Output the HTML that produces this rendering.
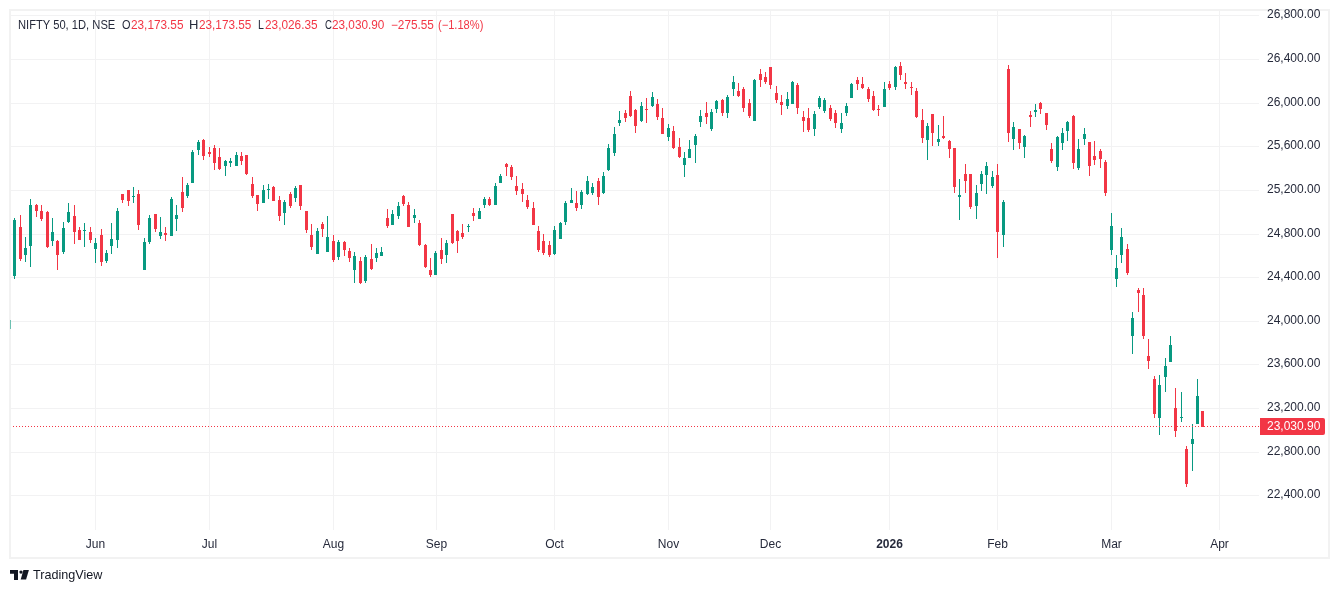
<!DOCTYPE html><html><head><meta charset="utf-8"><style>
html,body{margin:0;padding:0;background:#fff;width:1339px;height:593px;overflow:hidden;position:relative}
.t{position:absolute;transform:translateZ(0);transform-origin:0 0;font-family:"Liberation Sans",sans-serif;white-space:nowrap;line-height:1}
.ax{font-size:12px;color:#262a3b}
.lg{font-size:12px;color:#131722}
.rd{color:#f23645}
</style></head><body>
<svg width="1339" height="593" style="position:absolute;left:0;top:0" shape-rendering="crispEdges">
<path d="M9,9h1321v550h-1321z M11,11v546h1317v-546z" fill="#f2f2f2" fill-rule="evenodd"/>
<path d="M11,15h1248v1h-1248zM11,59h1248v1h-1248zM11,103h1248v1h-1248zM11,146h1248v1h-1248zM11,190h1248v1h-1248zM11,234h1248v1h-1248zM11,277h1248v1h-1248zM11,321h1248v1h-1248zM11,364h1248v1h-1248zM11,408h1248v1h-1248zM11,452h1248v1h-1248zM11,495h1248v1h-1248zM95,11h1v519h-1zM209,11h1v519h-1zM333,11h1v519h-1zM436,11h1v519h-1zM554,11h1v519h-1zM668,11h1v519h-1zM770,11h1v519h-1zM889,11h1v519h-1zM997,11h1v519h-1zM1111,11h1v519h-1zM1219,11h1v519h-1z" fill="#f2f2f3"/>
<path d="M10,320h1v9h-1z" fill="#6cc0b1"/>
<path d="M14,218h1v61h-1zM13,220h3v56h-3zM25,237h1v25h-1zM24,248h3v7h-3zM30,199h1v68h-1zM29,205h3v41h-3zM52,218h1v28h-1zM51,232h3v9h-3zM63,222h1v32h-1zM62,228h3v24h-3zM68,203h1v20h-1zM67,212h3v10h-3zM84,223h1v24h-1zM83,230h3v1h-3zM95,238h1v25h-1zM94,243h3v6h-3zM106,250h1v13h-1zM105,253h3v8h-3zM111,223h1v31h-1zM110,239h3v7h-3zM117,208h1v40h-1zM116,211h3v29h-3zM133,187h1v16h-1zM132,196h3v1h-3zM144,238h1v32h-1zM143,242h3v28h-3zM149,215h1v29h-1zM148,218h3v24h-3zM160,217h1v22h-1zM159,232h3v4h-3zM171,197h1v39h-1zM170,199h3v37h-3zM176,205h1v26h-1zM175,215h3v4h-3zM187,183h1v15h-1zM186,185h3v11h-3zM192,150h1v33h-1zM191,152h3v31h-3zM198,140h1v15h-1zM197,142h3v8h-3zM225,160h1v16h-1zM224,161h3v5h-3zM230,158h1v9h-1zM229,161h3v2h-3zM236,152h1v14h-1zM235,155h3v11h-3zM263,185h1v18h-1zM262,190h3v13h-3zM268,184h1v15h-1zM267,189h3v1h-3zM284,200h1v25h-1zM283,202h3v11h-3zM295,186h1v16h-1zM294,188h3v10h-3zM317,228h1v26h-1zM316,231h3v23h-3zM327,216h1v36h-1zM326,237h3v15h-3zM338,240h1v20h-1zM337,242h3v15h-3zM354,252h1v31h-1zM353,256h3v14h-3zM365,255h1v28h-1zM364,257h3v24h-3zM376,248h1v14h-1zM375,253h3v5h-3zM381,247h1v9h-1zM380,252h3v4h-3zM392,210h1v15h-1zM391,214h3v11h-3zM398,202h1v17h-1zM397,206h3v10h-3zM414,209h1v14h-1zM413,215h3v3h-3zM435,251h1v24h-1zM434,253h3v22h-3zM446,240h1v23h-1zM445,243h3v12h-3zM468,224h1v8h-1zM467,226h3v1h-3zM479,208h1v11h-1zM478,211h3v8h-3zM484,197h1v11h-1zM483,199h3v6h-3zM495,183h1v22h-1zM494,186h3v19h-3zM500,174h1v9h-1zM499,176h3v7h-3zM554,226h1v29h-1zM553,230h3v24h-3zM560,222h1v17h-1zM559,223h3v16h-3zM565,201h1v24h-1zM564,203h3v19h-3zM571,188h1v15h-1zM570,200h3v3h-3zM581,190h1v19h-1zM580,192h3v13h-3zM587,176h1v19h-1zM586,181h3v13h-3zM592,183h1v12h-1zM591,187h3v6h-3zM603,172h1v22h-1zM602,176h3v17h-3zM608,144h1v27h-1zM607,148h3v22h-3zM614,127h1v29h-1zM613,134h3v19h-3zM619,111h1v15h-1zM618,120h3v3h-3zM641,102h1v20h-1zM640,106h3v15h-3zM652,92h1v15h-1zM651,97h3v9h-3zM668,124h1v17h-1zM667,128h3v9h-3zM684,152h1v25h-1zM683,158h3v7h-3zM689,140h1v18h-1zM688,149h3v9h-3zM695,134h1v29h-1zM694,136h3v9h-3zM700,110h1v17h-1zM699,116h3v6h-3zM711,109h1v22h-1zM710,112h3v17h-3zM716,100h1v13h-1zM715,101h3v8h-3zM727,95h1v23h-1zM726,97h3v16h-3zM733,76h1v20h-1zM732,82h3v7h-3zM754,79h1v42h-1zM753,80h3v41h-3zM787,92h1v17h-1zM786,99h3v7h-3zM792,81h1v23h-1zM791,82h3v22h-3zM814,111h1v25h-1zM813,114h3v15h-3zM819,96h1v13h-1zM818,98h3v9h-3zM824,98h1v15h-1zM823,100h3v11h-3zM841,113h1v20h-1zM840,123h3v6h-3zM846,103h1v13h-1zM845,106h3v7h-3zM851,83h1v15h-1zM850,84h3v14h-3zM884,82h1v25h-1zM883,89h3v18h-3zM895,66h1v24h-1zM894,67h3v20h-3zM927,123h1v37h-1zM926,126h3v14h-3zM938,125h1v21h-1zM937,139h3v3h-3zM959,179h1v41h-1zM958,195h3v2h-3zM976,185h1v34h-1zM975,193h3v13h-3zM981,171h1v20h-1zM980,174h3v10h-3zM986,162h1v32h-1zM985,166h3v9h-3zM992,171h1v17h-1zM991,177h3v9h-3zM1003,200h1v47h-1zM1002,202h3v33h-3zM1013,122h1v28h-1zM1012,127h3v12h-3zM1024,135h1v23h-1zM1023,136h3v11h-3zM1035,104h1v13h-1zM1034,110h3v2h-3zM1057,136h1v35h-1zM1056,137h3v30h-3zM1062,128h1v22h-1zM1061,133h3v10h-3zM1067,121h1v20h-1zM1066,122h3v9h-3zM1078,139h1v31h-1zM1077,149h3v19h-3zM1084,128h1v17h-1zM1083,134h3v5h-3zM1111,213h1v42h-1zM1110,226h3v24h-3zM1116,255h1v32h-1zM1115,268h3v11h-3zM1121,228h1v35h-1zM1120,237h3v18h-3zM1132,312h1v42h-1zM1131,318h3v18h-3zM1159,375h1v60h-1zM1158,385h3v33h-3zM1165,358h1v34h-1zM1164,366h3v11h-3zM1170,336h1v26h-1zM1169,345h3v17h-3zM1181,392h1v30h-1zM1180,417h3v1h-3zM1192,424h1v47h-1zM1191,439h3v5h-3zM1197,379h1v45h-1zM1196,396h3v28h-3z" fill="#089981"/>
<path d="M20,215h1v46h-1zM19,227h3v32h-3zM36,204h1v13h-1zM35,205h3v6h-3zM41,205h1v16h-1zM40,211h3v8h-3zM47,211h1v37h-1zM46,212h3v35h-3zM57,240h1v30h-1zM56,241h3v14h-3zM74,205h1v39h-1zM73,216h3v16h-3zM79,227h1v13h-1zM78,230h3v10h-3zM90,227h1v16h-1zM89,232h3v8h-3zM101,229h1v37h-1zM100,235h3v27h-3zM122,194h1v9h-1zM121,194h3v6h-3zM128,190h1v16h-1zM127,190h3v11h-3zM138,190h1v40h-1zM137,194h3v31h-3zM155,214h1v18h-1zM154,214h3v15h-3zM165,227h1v14h-1zM164,233h3v2h-3zM182,177h1v35h-1zM181,192h3v16h-3zM203,139h1v21h-1zM202,140h3v16h-3zM209,147h1v10h-1zM208,152h3v2h-3zM214,145h1v25h-1zM213,148h3v15h-3zM219,148h1v22h-1zM218,157h3v12h-3zM241,152h1v13h-1zM240,156h3v5h-3zM246,155h1v20h-1zM245,155h3v19h-3zM252,177h1v21h-1zM251,184h3v12h-3zM257,195h1v16h-1zM256,195h3v9h-3zM273,186h1v15h-1zM272,187h3v14h-3zM279,196h1v25h-1zM278,200h3v16h-3zM290,192h1v16h-1zM289,194h3v12h-3zM300,185h1v25h-1zM299,185h3v21h-3zM306,211h1v22h-1zM305,211h3v19h-3zM311,224h1v26h-1zM310,235h3v12h-3zM322,222h1v15h-1zM321,224h3v5h-3zM333,235h1v27h-1zM332,241h3v19h-3zM344,241h1v15h-1zM343,242h3v8h-3zM349,248h1v14h-1zM348,251h3v7h-3zM360,257h1v27h-1zM359,261h3v22h-3zM371,244h1v26h-1zM370,259h3v10h-3zM387,209h1v19h-1zM386,218h3v8h-3zM403,195h1v11h-1zM402,196h3v8h-3zM408,202h1v25h-1zM407,205h3v22h-3zM419,220h1v26h-1zM418,223h3v22h-3zM425,244h1v24h-1zM424,245h3v22h-3zM430,258h1v19h-1zM429,270h3v5h-3zM441,238h1v26h-1zM440,250h3v9h-3zM452,214h1v30h-1zM451,214h3v29h-3zM457,230h1v23h-1zM456,231h3v10h-3zM462,224h1v15h-1zM461,233h3v4h-3zM473,208h1v13h-1zM472,213h3v3h-3zM489,197h1v9h-1zM488,199h3v6h-3zM506,163h1v13h-1zM505,164h3v3h-3zM511,165h1v15h-1zM510,167h3v10h-3zM516,176h1v19h-1zM515,186h3v5h-3zM522,183h1v19h-1zM521,189h3v5h-3zM527,195h1v14h-1zM526,200h3v7h-3zM533,202h1v23h-1zM532,208h3v17h-3zM538,226h1v26h-1zM537,231h3v19h-3zM543,234h1v21h-1zM542,241h3v12h-3zM549,241h1v16h-1zM548,245h3v10h-3zM576,191h1v20h-1zM575,203h3v5h-3zM598,178h1v27h-1zM597,181h3v16h-3zM625,110h1v12h-1zM624,113h3v5h-3zM630,91h1v26h-1zM629,96h3v20h-3zM635,109h1v24h-1zM634,110h3v16h-3zM646,98h1v25h-1zM645,109h3v1h-3zM657,99h1v21h-1zM656,104h3v13h-3zM662,108h1v26h-1zM661,118h3v16h-3zM673,126h1v23h-1zM672,131h3v17h-3zM679,138h1v20h-1zM678,147h3v10h-3zM706,102h1v22h-1zM705,113h3v4h-3zM722,99h1v17h-1zM721,100h3v13h-3zM738,83h1v14h-1zM737,91h3v5h-3zM743,87h1v25h-1zM742,89h3v19h-3zM749,99h1v19h-1zM748,103h3v13h-3zM760,69h1v18h-1zM759,74h3v6h-3zM765,72h1v12h-1zM764,77h3v5h-3zM770,67h1v22h-1zM769,67h3v18h-3zM776,86h1v17h-1zM775,93h3v7h-3zM781,95h1v20h-1zM780,102h3v3h-3zM797,83h1v31h-1zM796,85h3v23h-3zM803,111h1v21h-1zM802,117h3v4h-3zM808,108h1v24h-1zM807,118h3v12h-3zM830,105h1v16h-1zM829,108h3v11h-3zM835,110h1v18h-1zM834,113h3v10h-3zM857,77h1v13h-1zM856,80h3v4h-3zM862,77h1v12h-1zM861,84h3v4h-3zM868,87h1v15h-1zM867,89h3v10h-3zM873,91h1v20h-1zM872,96h3v14h-3zM878,105h1v11h-1zM877,109h3v1h-3zM889,81h1v9h-1zM888,84h3v4h-3zM900,62h1v18h-1zM899,66h3v9h-3zM905,73h1v16h-1zM904,82h3v2h-3zM911,82h1v13h-1zM910,87h3v1h-3zM916,88h1v30h-1zM915,91h3v26h-3zM922,109h1v34h-1zM921,120h3v18h-3zM932,114h1v32h-1zM931,114h3v19h-3zM943,116h1v23h-1zM942,136h3v2h-3zM949,140h1v18h-1zM948,141h3v8h-3zM954,148h1v45h-1zM953,148h3v39h-3zM965,164h1v29h-1zM964,174h3v7h-3zM970,174h1v35h-1zM969,174h3v33h-3zM997,164h1v94h-1zM996,175h3v57h-3zM1008,65h1v77h-1zM1007,69h3v64h-3zM1019,129h1v20h-1zM1018,129h3v14h-3zM1030,111h1v16h-1zM1029,115h3v2h-3zM1040,102h1v12h-1zM1039,103h3v6h-3zM1046,113h1v17h-1zM1045,113h3v12h-3zM1051,143h1v20h-1zM1050,149h3v12h-3zM1073,115h1v54h-1zM1072,116h3v47h-3zM1089,142h1v34h-1zM1088,142h3v24h-3zM1094,141h1v24h-1zM1093,156h3v4h-3zM1100,149h1v19h-1zM1099,151h3v8h-3zM1105,160h1v36h-1zM1104,162h3v31h-3zM1127,244h1v31h-1zM1126,249h3v24h-3zM1138,288h1v24h-1zM1137,290h3v3h-3zM1143,288h1v51h-1zM1142,295h3v41h-3zM1148,339h1v30h-1zM1147,356h3v5h-3zM1154,376h1v42h-1zM1153,379h3v35h-3zM1175,388h1v49h-1zM1174,408h3v23h-3zM1186,446h1v41h-1zM1185,449h3v35h-3zM1202,411h1v16h-1zM1201,411h3v16h-3z" fill="#f23645"/>
<path d="M13,426h1v1h-1zM16,426h1v1h-1zM19,426h1v1h-1zM22,426h1v1h-1zM25,426h1v1h-1zM28,426h1v1h-1zM31,426h1v1h-1zM34,426h1v1h-1zM37,426h1v1h-1zM40,426h1v1h-1zM43,426h1v1h-1zM46,426h1v1h-1zM49,426h1v1h-1zM52,426h1v1h-1zM55,426h1v1h-1zM58,426h1v1h-1zM61,426h1v1h-1zM64,426h1v1h-1zM67,426h1v1h-1zM70,426h1v1h-1zM73,426h1v1h-1zM76,426h1v1h-1zM79,426h1v1h-1zM82,426h1v1h-1zM85,426h1v1h-1zM88,426h1v1h-1zM91,426h1v1h-1zM94,426h1v1h-1zM97,426h1v1h-1zM100,426h1v1h-1zM103,426h1v1h-1zM106,426h1v1h-1zM109,426h1v1h-1zM112,426h1v1h-1zM115,426h1v1h-1zM118,426h1v1h-1zM121,426h1v1h-1zM124,426h1v1h-1zM127,426h1v1h-1zM130,426h1v1h-1zM133,426h1v1h-1zM136,426h1v1h-1zM139,426h1v1h-1zM142,426h1v1h-1zM145,426h1v1h-1zM148,426h1v1h-1zM151,426h1v1h-1zM154,426h1v1h-1zM157,426h1v1h-1zM160,426h1v1h-1zM163,426h1v1h-1zM166,426h1v1h-1zM169,426h1v1h-1zM172,426h1v1h-1zM175,426h1v1h-1zM178,426h1v1h-1zM181,426h1v1h-1zM184,426h1v1h-1zM187,426h1v1h-1zM190,426h1v1h-1zM193,426h1v1h-1zM196,426h1v1h-1zM199,426h1v1h-1zM202,426h1v1h-1zM205,426h1v1h-1zM208,426h1v1h-1zM211,426h1v1h-1zM214,426h1v1h-1zM217,426h1v1h-1zM220,426h1v1h-1zM223,426h1v1h-1zM226,426h1v1h-1zM229,426h1v1h-1zM232,426h1v1h-1zM235,426h1v1h-1zM238,426h1v1h-1zM241,426h1v1h-1zM244,426h1v1h-1zM247,426h1v1h-1zM250,426h1v1h-1zM253,426h1v1h-1zM256,426h1v1h-1zM259,426h1v1h-1zM262,426h1v1h-1zM265,426h1v1h-1zM268,426h1v1h-1zM271,426h1v1h-1zM274,426h1v1h-1zM277,426h1v1h-1zM280,426h1v1h-1zM283,426h1v1h-1zM286,426h1v1h-1zM289,426h1v1h-1zM292,426h1v1h-1zM295,426h1v1h-1zM298,426h1v1h-1zM301,426h1v1h-1zM304,426h1v1h-1zM307,426h1v1h-1zM310,426h1v1h-1zM313,426h1v1h-1zM316,426h1v1h-1zM319,426h1v1h-1zM322,426h1v1h-1zM325,426h1v1h-1zM328,426h1v1h-1zM331,426h1v1h-1zM334,426h1v1h-1zM337,426h1v1h-1zM340,426h1v1h-1zM343,426h1v1h-1zM346,426h1v1h-1zM349,426h1v1h-1zM352,426h1v1h-1zM355,426h1v1h-1zM358,426h1v1h-1zM361,426h1v1h-1zM364,426h1v1h-1zM367,426h1v1h-1zM370,426h1v1h-1zM373,426h1v1h-1zM376,426h1v1h-1zM379,426h1v1h-1zM382,426h1v1h-1zM385,426h1v1h-1zM388,426h1v1h-1zM391,426h1v1h-1zM394,426h1v1h-1zM397,426h1v1h-1zM400,426h1v1h-1zM403,426h1v1h-1zM406,426h1v1h-1zM409,426h1v1h-1zM412,426h1v1h-1zM415,426h1v1h-1zM418,426h1v1h-1zM421,426h1v1h-1zM424,426h1v1h-1zM427,426h1v1h-1zM430,426h1v1h-1zM433,426h1v1h-1zM436,426h1v1h-1zM439,426h1v1h-1zM442,426h1v1h-1zM445,426h1v1h-1zM448,426h1v1h-1zM451,426h1v1h-1zM454,426h1v1h-1zM457,426h1v1h-1zM460,426h1v1h-1zM463,426h1v1h-1zM466,426h1v1h-1zM469,426h1v1h-1zM472,426h1v1h-1zM475,426h1v1h-1zM478,426h1v1h-1zM481,426h1v1h-1zM484,426h1v1h-1zM487,426h1v1h-1zM490,426h1v1h-1zM493,426h1v1h-1zM496,426h1v1h-1zM499,426h1v1h-1zM502,426h1v1h-1zM505,426h1v1h-1zM508,426h1v1h-1zM511,426h1v1h-1zM514,426h1v1h-1zM517,426h1v1h-1zM520,426h1v1h-1zM523,426h1v1h-1zM526,426h1v1h-1zM529,426h1v1h-1zM532,426h1v1h-1zM535,426h1v1h-1zM538,426h1v1h-1zM541,426h1v1h-1zM544,426h1v1h-1zM547,426h1v1h-1zM550,426h1v1h-1zM553,426h1v1h-1zM556,426h1v1h-1zM559,426h1v1h-1zM562,426h1v1h-1zM565,426h1v1h-1zM568,426h1v1h-1zM571,426h1v1h-1zM574,426h1v1h-1zM577,426h1v1h-1zM580,426h1v1h-1zM583,426h1v1h-1zM586,426h1v1h-1zM589,426h1v1h-1zM592,426h1v1h-1zM595,426h1v1h-1zM598,426h1v1h-1zM601,426h1v1h-1zM604,426h1v1h-1zM607,426h1v1h-1zM610,426h1v1h-1zM613,426h1v1h-1zM616,426h1v1h-1zM619,426h1v1h-1zM622,426h1v1h-1zM625,426h1v1h-1zM628,426h1v1h-1zM631,426h1v1h-1zM634,426h1v1h-1zM637,426h1v1h-1zM640,426h1v1h-1zM643,426h1v1h-1zM646,426h1v1h-1zM649,426h1v1h-1zM652,426h1v1h-1zM655,426h1v1h-1zM658,426h1v1h-1zM661,426h1v1h-1zM664,426h1v1h-1zM667,426h1v1h-1zM670,426h1v1h-1zM673,426h1v1h-1zM676,426h1v1h-1zM679,426h1v1h-1zM682,426h1v1h-1zM685,426h1v1h-1zM688,426h1v1h-1zM691,426h1v1h-1zM694,426h1v1h-1zM697,426h1v1h-1zM700,426h1v1h-1zM703,426h1v1h-1zM706,426h1v1h-1zM709,426h1v1h-1zM712,426h1v1h-1zM715,426h1v1h-1zM718,426h1v1h-1zM721,426h1v1h-1zM724,426h1v1h-1zM727,426h1v1h-1zM730,426h1v1h-1zM733,426h1v1h-1zM736,426h1v1h-1zM739,426h1v1h-1zM742,426h1v1h-1zM745,426h1v1h-1zM748,426h1v1h-1zM751,426h1v1h-1zM754,426h1v1h-1zM757,426h1v1h-1zM760,426h1v1h-1zM763,426h1v1h-1zM766,426h1v1h-1zM769,426h1v1h-1zM772,426h1v1h-1zM775,426h1v1h-1zM778,426h1v1h-1zM781,426h1v1h-1zM784,426h1v1h-1zM787,426h1v1h-1zM790,426h1v1h-1zM793,426h1v1h-1zM796,426h1v1h-1zM799,426h1v1h-1zM802,426h1v1h-1zM805,426h1v1h-1zM808,426h1v1h-1zM811,426h1v1h-1zM814,426h1v1h-1zM817,426h1v1h-1zM820,426h1v1h-1zM823,426h1v1h-1zM826,426h1v1h-1zM829,426h1v1h-1zM832,426h1v1h-1zM835,426h1v1h-1zM838,426h1v1h-1zM841,426h1v1h-1zM844,426h1v1h-1zM847,426h1v1h-1zM850,426h1v1h-1zM853,426h1v1h-1zM856,426h1v1h-1zM859,426h1v1h-1zM862,426h1v1h-1zM865,426h1v1h-1zM868,426h1v1h-1zM871,426h1v1h-1zM874,426h1v1h-1zM877,426h1v1h-1zM880,426h1v1h-1zM883,426h1v1h-1zM886,426h1v1h-1zM889,426h1v1h-1zM892,426h1v1h-1zM895,426h1v1h-1zM898,426h1v1h-1zM901,426h1v1h-1zM904,426h1v1h-1zM907,426h1v1h-1zM910,426h1v1h-1zM913,426h1v1h-1zM916,426h1v1h-1zM919,426h1v1h-1zM922,426h1v1h-1zM925,426h1v1h-1zM928,426h1v1h-1zM931,426h1v1h-1zM934,426h1v1h-1zM937,426h1v1h-1zM940,426h1v1h-1zM943,426h1v1h-1zM946,426h1v1h-1zM949,426h1v1h-1zM952,426h1v1h-1zM955,426h1v1h-1zM958,426h1v1h-1zM961,426h1v1h-1zM964,426h1v1h-1zM967,426h1v1h-1zM970,426h1v1h-1zM973,426h1v1h-1zM976,426h1v1h-1zM979,426h1v1h-1zM982,426h1v1h-1zM985,426h1v1h-1zM988,426h1v1h-1zM991,426h1v1h-1zM994,426h1v1h-1zM997,426h1v1h-1zM1000,426h1v1h-1zM1003,426h1v1h-1zM1006,426h1v1h-1zM1009,426h1v1h-1zM1012,426h1v1h-1zM1015,426h1v1h-1zM1018,426h1v1h-1zM1021,426h1v1h-1zM1024,426h1v1h-1zM1027,426h1v1h-1zM1030,426h1v1h-1zM1033,426h1v1h-1zM1036,426h1v1h-1zM1039,426h1v1h-1zM1042,426h1v1h-1zM1045,426h1v1h-1zM1048,426h1v1h-1zM1051,426h1v1h-1zM1054,426h1v1h-1zM1057,426h1v1h-1zM1060,426h1v1h-1zM1063,426h1v1h-1zM1066,426h1v1h-1zM1069,426h1v1h-1zM1072,426h1v1h-1zM1075,426h1v1h-1zM1078,426h1v1h-1zM1081,426h1v1h-1zM1084,426h1v1h-1zM1087,426h1v1h-1zM1090,426h1v1h-1zM1093,426h1v1h-1zM1096,426h1v1h-1zM1099,426h1v1h-1zM1102,426h1v1h-1zM1105,426h1v1h-1zM1108,426h1v1h-1zM1111,426h1v1h-1zM1114,426h1v1h-1zM1117,426h1v1h-1zM1120,426h1v1h-1zM1123,426h1v1h-1zM1126,426h1v1h-1zM1129,426h1v1h-1zM1132,426h1v1h-1zM1135,426h1v1h-1zM1138,426h1v1h-1zM1141,426h1v1h-1zM1144,426h1v1h-1zM1147,426h1v1h-1zM1150,426h1v1h-1zM1153,426h1v1h-1zM1156,426h1v1h-1zM1159,426h1v1h-1zM1162,426h1v1h-1zM1165,426h1v1h-1zM1168,426h1v1h-1zM1171,426h1v1h-1zM1174,426h1v1h-1zM1177,426h1v1h-1zM1180,426h1v1h-1zM1183,426h1v1h-1zM1186,426h1v1h-1zM1189,426h1v1h-1zM1192,426h1v1h-1zM1195,426h1v1h-1zM1198,426h1v1h-1zM1201,426h1v1h-1zM1204,426h1v1h-1zM1207,426h1v1h-1zM1210,426h1v1h-1zM1213,426h1v1h-1zM1216,426h1v1h-1zM1219,426h1v1h-1zM1222,426h1v1h-1zM1225,426h1v1h-1zM1228,426h1v1h-1zM1231,426h1v1h-1zM1234,426h1v1h-1zM1237,426h1v1h-1zM1240,426h1v1h-1zM1243,426h1v1h-1zM1246,426h1v1h-1zM1249,426h1v1h-1zM1252,426h1v1h-1zM1255,426h1v1h-1zM1258,426h1v1h-1z" fill="#f23645"/>
<path d="M1260,418h63a2,2 0 0 1 2,2v13a2,2 0 0 1 -2,2h-63z" fill="#f23645" shape-rendering="auto"/>
<g fill="#131722" shape-rendering="auto"><path d="M10,570h8v10h-4v-6.3h-4z"/><circle cx="21.0" cy="572.1" r="1.65"/><path d="M23.4,570h5.5l-2.8,9.6h-5.4z"/></g>
</svg>
<div class="t ax" style="left:1267px;top:8px">26,800.00</div>
<div class="t ax" style="left:1267px;top:52px">26,400.00</div>
<div class="t ax" style="left:1267px;top:96px">26,000.00</div>
<div class="t ax" style="left:1267px;top:139px">25,600.00</div>
<div class="t ax" style="left:1267px;top:183px">25,200.00</div>
<div class="t ax" style="left:1267px;top:227px">24,800.00</div>
<div class="t ax" style="left:1267px;top:270px">24,400.00</div>
<div class="t ax" style="left:1267px;top:314px">24,000.00</div>
<div class="t ax" style="left:1267px;top:357px">23,600.00</div>
<div class="t ax" style="left:1267px;top:401px">23,200.00</div>
<div class="t ax" style="left:1267px;top:445px">22,800.00</div>
<div class="t ax" style="left:1267px;top:488px">22,400.00</div>
<div class="t ax" style="left:55px;width:81px;text-align:center;top:538px;">Jun</div>
<div class="t ax" style="left:169px;width:81px;text-align:center;top:538px;">Jul</div>
<div class="t ax" style="left:293px;width:81px;text-align:center;top:538px;">Aug</div>
<div class="t ax" style="left:396px;width:81px;text-align:center;top:538px;">Sep</div>
<div class="t ax" style="left:514px;width:81px;text-align:center;top:538px;">Oct</div>
<div class="t ax" style="left:628px;width:81px;text-align:center;top:538px;">Nov</div>
<div class="t ax" style="left:730px;width:81px;text-align:center;top:538px;">Dec</div>
<div class="t ax" style="left:849px;width:81px;text-align:center;top:538px;font-weight:bold;">2026</div>
<div class="t ax" style="left:957px;width:81px;text-align:center;top:538px;">Feb</div>
<div class="t ax" style="left:1071px;width:81px;text-align:center;top:538px;">Mar</div>
<div class="t ax" style="left:1179px;width:81px;text-align:center;top:538px;">Apr</div>
<div class="t ax" style="left:1267px;top:420px;color:#fff">23,030.90</div>
<div class="t lg" style="left:17.57px;top:19px;color:#262a3b;transform:translateZ(0) scaleX(0.9311)">NIFTY 50, 1D, NSE</div>
<div class="t lg" style="left:121.90px;top:19px;color:#262a3b;transform:translateZ(0) scaleX(0.9111)">O</div>
<div class="t lg" style="left:130.70px;top:19px;color:#f23645;transform:translateZ(0) scaleX(0.9830)">23,173.55</div>
<div class="t lg" style="left:189.21px;top:19px;color:#262a3b;transform:translateZ(0) scaleX(1.0857)">H</div>
<div class="t lg" style="left:198.50px;top:19px;color:#f23645;transform:translateZ(0) scaleX(0.9811)">23,173.55</div>
<div class="t lg" style="left:257.82px;top:19px;color:#262a3b;transform:translateZ(0) scaleX(0.8833)">L</div>
<div class="t lg" style="left:264.80px;top:19px;color:#f23645;transform:translateZ(0) scaleX(0.9849)">23,026.35</div>
<div class="t lg" style="left:324.80px;top:19px;color:#262a3b;transform:translateZ(0) scaleX(0.8000)">C</div>
<div class="t lg" style="left:332.10px;top:19px;color:#f23645;transform:translateZ(0) scaleX(0.9811)">23,030.90</div>
<div class="t lg" style="left:391.12px;top:19px;color:#f23645;transform:translateZ(0) scaleX(0.9810)">−275.55</div>
<div class="t lg" style="left:437.77px;top:19px;color:#f23645;transform:translateZ(0) scaleX(0.9255)">(−1.18%)</div>
<div class="t" style="left:33px;top:569px;font-size:12.6px;color:#131722">TradingView</div>
</body></html>
